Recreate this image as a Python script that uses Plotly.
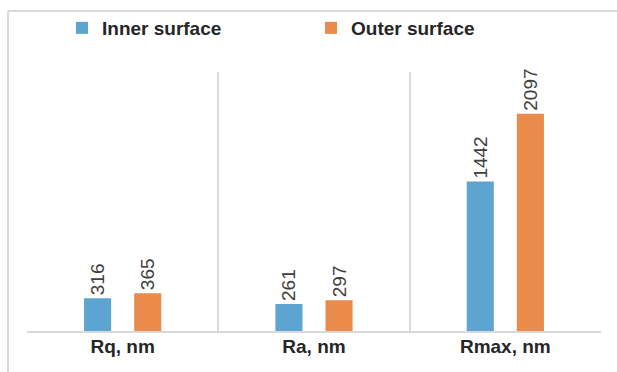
import plotly.graph_objects as go

categories = ["Rq, nm", "Ra, nm", "Rmax, nm"]
inner_surface = [316, 261, 1442]
outer_surface = [365, 297, 2097]
series_names = ["Inner surface", "Outer surface"]

W, H = 617, 372
L, R, T, B = 27, 16, 72, 41
pw, ph = W - L - R, H - T - B

def px_x(x):
    return (x - L) / pw

def px_y(y):
    return (H - B - y) / ph

blue = "#5DA4D0"
orange = "#EA8A4B"
label_font = dict(family="Liberation Sans, Arial, sans-serif", size=19, color="#404040")

fig = go.Figure()
for name, vals, col in [(series_names[0], inner_surface, blue), (series_names[1], outer_surface, orange)]:
    fig.add_trace(go.Bar(
        x=categories, y=vals, name=name, marker=dict(color=col, line=dict(width=0)),
        text=[str(v) for v in vals], textposition="outside", textangle=-90,
        textfont=label_font, constraintext="none", cliponaxis=False,
    ))

fig.update_layout(
    width=W, height=H,
    margin=dict(l=L, r=R, t=T, b=B, pad=0, autoexpand=False),
    paper_bgcolor="white", plot_bgcolor="white",
    barmode="group", bargap=0.476, bargroupgap=0.46,
    font=dict(family="Liberation Sans, Arial, sans-serif", color="#262626"),
    showlegend=True,
    legend=dict(
        orientation="h", x=px_x(62), xanchor="left", y=px_y(28), yanchor="middle",
        font=dict(size=19, color="#262626", family="Liberation Sans, Arial, sans-serif", weight="bold"),
        entrywidth=204, entrywidthmode="pixels", bgcolor="rgba(0,0,0,0)",
    ),
    xaxis=dict(
        showgrid=True, gridcolor="#D9D9D9", gridwidth=1.5, tickson="boundaries",
        showline=True, linecolor="#D9D9D9", linewidth=1.5, ticks="",
        tickfont=dict(size=19, color="#262626", weight="bold"), ticklabelstandoff=-3,
    ),
    yaxis=dict(range=[0, 2500], visible=False, showgrid=False, zeroline=False),
    shapes=[
        dict(type="line", xref="paper", yref="paper", x0=px_x(8), x1=px_x(8), y0=px_y(11), y1=px_y(372),
             line=dict(color="#D9D9D9", width=2)),
        dict(type="line", xref="paper", yref="paper", x0=px_x(8), x1=px_x(617), y0=px_y(11), y1=px_y(11),
             line=dict(color="#D9D9D9", width=2)),
    ],
)

fig.write_html("out.html", config={"displayModeBar": False},
               post_script="document.body.style.margin='0';document.body.style.overflow='hidden';")
